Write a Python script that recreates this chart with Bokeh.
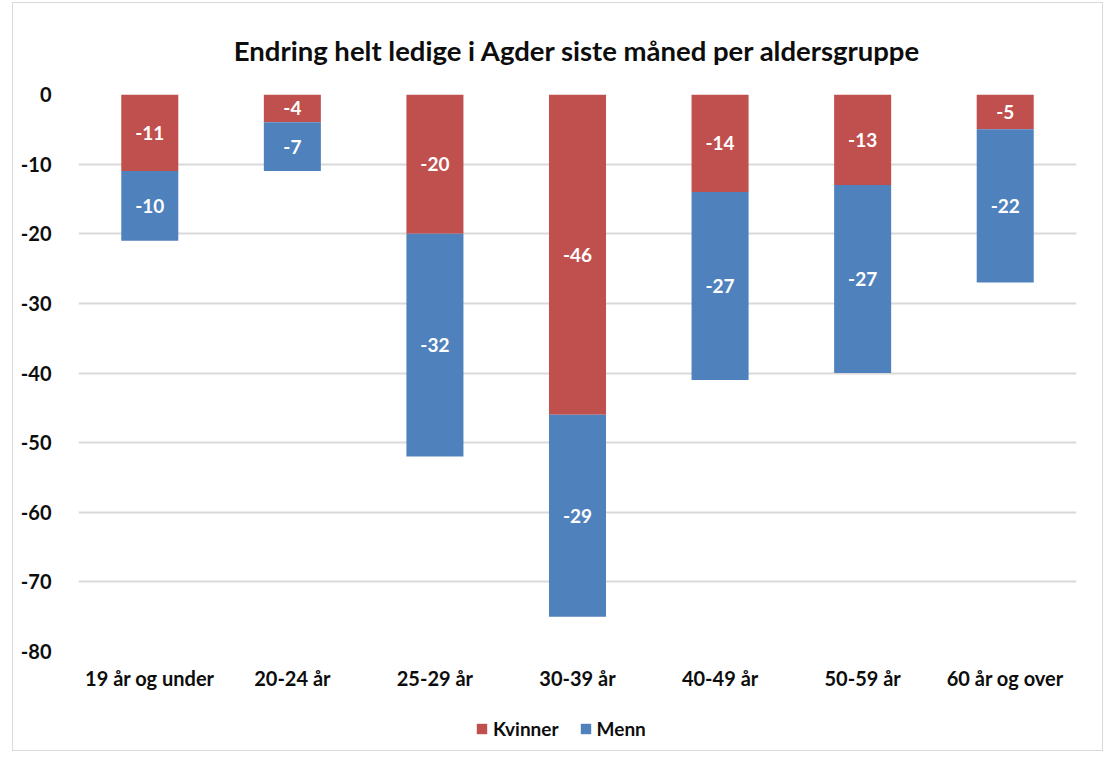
from bokeh.plotting import figure
from bokeh.layouts import column
from bokeh.models import ColumnDataSource, Legend, LegendItem, FactorRange, Range1d, PrintfTickFormatter
from bokeh.core.properties import value
from bokeh.embed import file_html
from bokeh.resources import INLINE

categories = ["19 år og under", "20-24 år", "25-29 år", "30-39 år", "40-49 år", "50-59 år", "60 år og over"]
kvinner = [-11, -4, -20, -46, -14, -13, -5]
menn = [-10, -7, -32, -29, -27, -27, -22]
y_ticks = [0, -10, -20, -30, -40, -50, -60, -70, -80]
series_names = ["Kvinner", "Menn"]

RED = "#C0504D"
BLUE = "#4F81BD"
FONT = "Lato"
TXT = "#0D0D0D"

k_mid = [k / 2 for k in kvinner]
m_mid = [k + m / 2 for k, m in zip(kvinner, menn)]

source = ColumnDataSource(dict(
    cat=categories, Kvinner=kvinner, Menn=menn,
    k_mid=k_mid, m_mid=m_mid,
    k_lbl=[str(v) for v in kvinner], m_lbl=[str(v) for v in menn],
))

# main chart
p = figure(
    x_range=FactorRange(*categories, range_padding=0),
    y_range=Range1d(-80, 0),
    width=1089, height=693,
    output_backend="svg", toolbar_location=None,
    min_border_left=65, min_border_right=26, min_border_top=89, min_border_bottom=45,
)
p.outline_line_color = None

p.title.text = "Endring helt ledige i Agder siste måned per aldersgruppe"
p.title.align = "center"
p.title.text_font = FONT
p.title.text_font_size = "27.5px"
p.title.text_font_style = "bold"
p.title.text_color = TXT
p.title.standoff = 56

rs = p.vbar_stack(series_names, x="cat", width=0.4, source=source,
                  color=[RED, BLUE], line_color=None)

p.text(x="cat", y="k_mid", text="k_lbl", source=source, text_align="center",
       text_baseline="middle", text_color="white", text_font=value(FONT),
       text_font_size="19px", text_font_style="bold")
p.text(x="cat", y="m_mid", text="m_lbl", source=source, text_align="center",
       text_baseline="middle", text_color="white", text_font=value(FONT),
       text_font_size="19px", text_font_style="bold")

p.yaxis.ticker = y_ticks
p.yaxis.formatter = PrintfTickFormatter(format="%d")
p.ygrid.grid_line_color = "#D9D9D9"
p.ygrid.grid_line_width = 2
p.xgrid.grid_line_color = None

for ax in (p.xaxis, p.yaxis):
    ax.axis_line_color = None
    ax.major_tick_line_color = None
    ax.minor_tick_line_color = None
    ax.major_label_text_font = FONT
    ax.major_label_text_font_size = "20px"
    ax.major_label_text_font_style = "bold"
    ax.major_label_text_color = TXT
p.yaxis.major_label_standoff = 21
p.xaxis.major_label_standoff = 8

# legend strip (same series, drawn outside its visible range so only the legend shows)
pl = figure(
    width=1089, height=54,
    x_range=FactorRange(*categories, range_padding=0), y_range=Range1d(1, 2),
    output_backend="svg", toolbar_location=None,
    x_axis_type=None, y_axis_type=None, min_border=0,
)
pl.outline_line_color = None
pl.xgrid.visible = False
pl.ygrid.visible = False
lrs = pl.vbar_stack(series_names, x="cat", width=0.4, source=source,
                    color=[RED, BLUE], line_color=None)

legend = Legend(
    items=[LegendItem(label=series_names[0], renderers=[lrs[0]]),
           LegendItem(label=series_names[1], renderers=[lrs[1]])],
    orientation="horizontal", location=(397, 10),
    glyph_width=13, glyph_height=13, label_standoff=5, spacing=20,
    padding=4, margin=0,
    label_text_font=FONT, label_text_font_size="19px",
    label_text_font_style="bold", label_text_color=TXT,
    border_line_color=None, background_fill_alpha=0,
)
pl.add_layout(legend, "center")

layout = column(p, pl, spacing=0,
                styles={"border": "1px solid #D9D9D9", "margin-left": "12px", "margin-top": "2px"})

open("out.html", "w").write(file_html(layout, INLINE))
